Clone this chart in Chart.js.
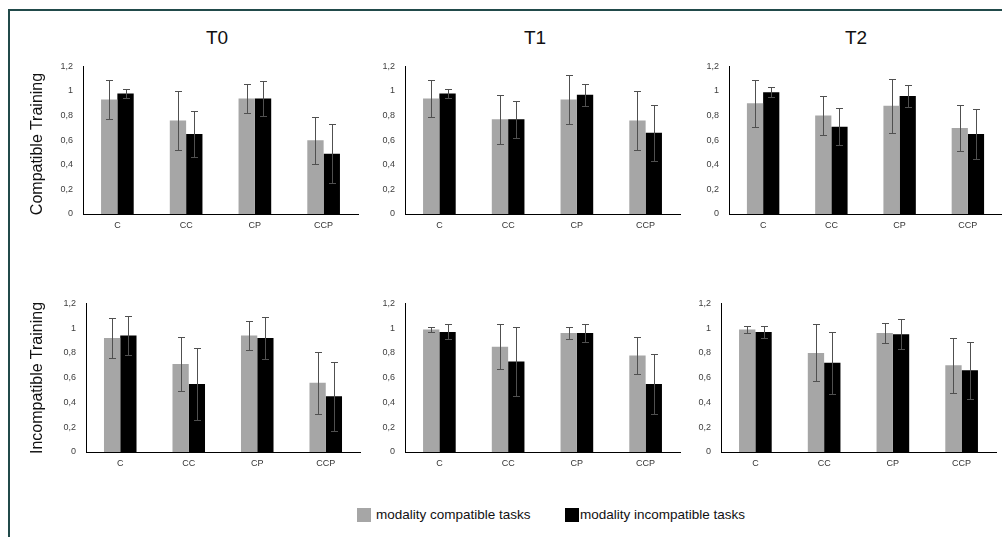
<!DOCTYPE html>
<html>
<head>
<meta charset="utf-8">
<script src="https://cdn.jsdelivr.net/npm/chart.js@4"></script>
<style>
  body { margin: 0; background: #fff; font-family: "Liberation Sans", Arial, sans-serif; }
  #wrap { position: relative; width: 1002px; height: 537px; overflow: hidden; background: #fff; }
  #frame { position: absolute; left: 8px; top: 9px; width: 1010px; height: 560px; border: 2px solid #214a4a; }
  canvas { position: absolute; }
  .title { position: absolute; top: 27px; font-size: 19px; color: #111; transform: translateX(-50%); }
  .rowlab { position: absolute; font-size: 16px; color: #111; white-space: nowrap; transform: translate(-50%, -50%) rotate(-90deg); }
  .legend { position: absolute; top: 507px; font-size: 13.5px; color: #111; display: flex; align-items: center; }
  .sw { width: 14px; height: 14px; display: inline-block; margin-right: 5px; }
</style>
</head>
<body>
<div id="wrap">
  <div id="frame"></div>
</div>
<script>
// data
var categories = ['C', 'CC', 'CP', 'CCP'];
var timepoints = ['T0', 'T1', 'T2'];
var trainings = ['Compatible Training', 'Incompatible Training'];
var seriesNames = ['modality compatible tasks', 'modality incompatible tasks'];

// compatible training, one row per timepoint
var compatGray = [[0.93, 0.76, 0.94, 0.60], [0.94, 0.77, 0.93, 0.76], [0.90, 0.80, 0.88, 0.70]];
var compatGrayErr = [[0.16, 0.24, 0.12, 0.19], [0.15, 0.20, 0.20, 0.24], [0.19, 0.16, 0.22, 0.19]];
var compatBlack = [[0.98, 0.65, 0.94, 0.49], [0.98, 0.77, 0.97, 0.66], [0.99, 0.71, 0.96, 0.65]];
var compatBlackErr = [[0.04, 0.19, 0.14, 0.24], [0.04, 0.15, 0.09, 0.23], [0.04, 0.15, 0.09, 0.20]];

// incompatible training
var incompGray = [[0.92, 0.71, 0.94, 0.56], [0.99, 0.85, 0.96, 0.78], [0.99, 0.80, 0.96, 0.70]];
var incompGrayErr = [[0.16, 0.22, 0.12, 0.25], [0.02, 0.18, 0.05, 0.15], [0.03, 0.23, 0.08, 0.22]];
var incompBlack = [[0.94, 0.55, 0.92, 0.45], [0.97, 0.73, 0.96, 0.55], [0.97, 0.72, 0.95, 0.66]];
var incompBlackErr = [[0.16, 0.29, 0.17, 0.28], [0.06, 0.28, 0.07, 0.24], [0.05, 0.25, 0.12, 0.23]];

var grayColor = '#a6a6a6';
var blackColor = '#000000';

// plot areas [left, right, top, bottom]
var areas = [
  [[83, 358, 66, 214], [405, 680, 66, 214], [729, 1002, 66, 214]],
  [[86, 360, 303, 452], [405, 680, 303, 452], [721, 996, 303, 452]]
];

Chart.defaults.font.family = '"Liberation Sans", Arial, sans-serif';
Chart.defaults.color = '#404040';

var errorBars = {
  id: 'errorBars',
  afterDatasetsDraw: function(chart) {
    var ctx = chart.ctx;
    var y = chart.scales.y;
    ctx.save();
    ctx.strokeStyle = '#505050';
    ctx.lineWidth = 1;
    chart.data.datasets.forEach(function(ds, i) {
      chart.getDatasetMeta(i).data.forEach(function(bar, j) {
        var v = ds.data[j], e = ds.errors[j];
        var x = Math.round(bar.x) + 0.5;
        var yt = Math.round(y.getPixelForValue(v + e)) + 0.5;
        var yb = Math.round(y.getPixelForValue(v - e)) + 0.5;
        ctx.beginPath();
        ctx.moveTo(x, yt); ctx.lineTo(x, yb);
        ctx.moveTo(x - 3.5, yt); ctx.lineTo(x + 3.5, yt);
        ctx.moveTo(x - 3.5, yb); ctx.lineTo(x + 3.5, yb);
        ctx.stroke();
      });
    });
    ctx.restore();
  }
};

var wrap = document.getElementById('wrap');
var yW = 40, xH = 22, padRight = 2;

function makePanel(row, col, gray, grayErr, black, blackErr) {
  var a = areas[row][col];
  var cv = document.createElement('canvas');
  var w = a[1] - a[0] + yW + padRight;
  var h = a[3] - a[2] + 30;
  cv.width = w; cv.height = h;
  cv.style.left = (a[0] - yW) + 'px';
  wrap.appendChild(cv);
  var chart = new Chart(cv.getContext('2d'), {
    type: 'bar',
    data: {
      labels: categories,
      datasets: [
        { label: seriesNames[0], data: gray, errors: grayErr, backgroundColor: grayColor },
        { label: seriesNames[1], data: black, errors: blackErr, backgroundColor: blackColor }
      ]
    },
    options: {
      responsive: false,
      maintainAspectRatio: false,
      animation: false,
      layout: { padding: { top: 0, right: padRight, left: 0, bottom: 0 } },
      plugins: { legend: { display: false }, tooltip: { enabled: false } },
      datasets: { bar: { categoryPercentage: 0.475, barPercentage: 1.0 } },
      scales: {
        x: {
          grid: { display: false, drawTicks: false },
          border: { display: true, color: '#000', width: 1 },
          ticks: { font: { size: 9 }, padding: 6, color: '#333' },
          afterFit: function(s) { s.height = xH; }
        },
        y: {
          min: 0, max: 1.2,
          grid: { display: false, drawTicks: false },
          border: { display: true, color: '#000', width: 1 },
          ticks: {
            stepSize: 0.2, font: { size: 9 }, padding: 10, color: '#404040',
            callback: function(v) { return String(Math.round(v * 10) / 10).replace('.', ','); }
          },
          afterFit: function(s) { s.width = yW; }
        }
      }
    },
    plugins: [errorBars]
  });
  // fit the canvas so that the plot area lands on the wanted box
  var topOff = chart.chartArea.top;
  var botOff = h - chart.chartArea.bottom;
  var nh = Math.round(a[3] - a[2] + topOff + botOff);
  chart.resize(w, nh);
  cv.style.top = (a[2] - chart.chartArea.top) + 'px';
}

for (var t = 0; t < 3; t++) {
  makePanel(0, t, compatGray[t], compatGrayErr[t], compatBlack[t], compatBlackErr[t]);
  makePanel(1, t, incompGray[t], incompGrayErr[t], incompBlack[t], incompBlackErr[t]);
}

// column titles
var titleX = [217, 535, 856];
timepoints.forEach(function(tp, i) {
  var d = document.createElement('div');
  d.className = 'title';
  d.style.left = titleX[i] + 'px';
  d.textContent = tp;
  wrap.appendChild(d);
});

// row labels
var rowY = [144, 378];
trainings.forEach(function(tr, i) {
  var d = document.createElement('div');
  d.className = 'rowlab';
  d.style.left = '37px';
  d.style.top = rowY[i] + 'px';
  d.textContent = tr;
  wrap.appendChild(d);
});

// legend
var legX = [357, 565];
var legC = [grayColor, blackColor];
seriesNames.forEach(function(n, i) {
  var d = document.createElement('div');
  d.className = 'legend';
  d.style.left = legX[i] + 'px';
  d.innerHTML = '<span class="sw" style="background:' + legC[i] + ';margin-right:' + (i ? 1 : 5) + 'px"></span><span></span>';
  d.lastChild.textContent = n;
  wrap.appendChild(d);
});
</script>
</body>
</html>
